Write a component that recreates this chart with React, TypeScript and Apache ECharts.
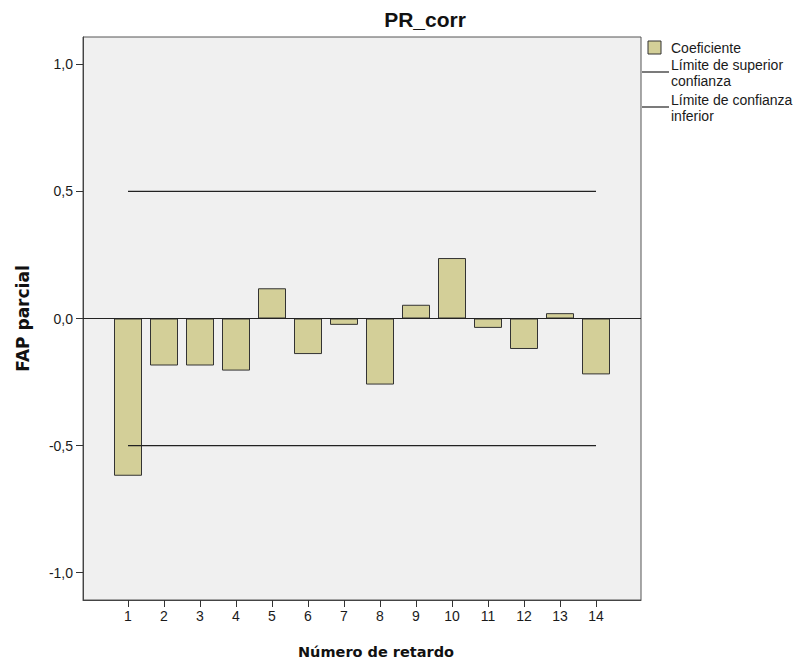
import React, { useEffect, useRef } from "react";
import * as echarts from "echarts";

const lags = [1, 2, 3, 4, 5, 6, 7, 8, 9, 10, 11, 12, 13, 14];
const coeficiente = [-0.619, -0.185, -0.185, -0.205, 0.119, -0.14, -0.025, -0.26, 0.054, 0.238, -0.037, -0.12, 0.021, -0.22];
const limiteSuperior = [0.5, 0.5, 0.5, 0.5, 0.5, 0.5, 0.5, 0.5, 0.5, 0.5, 0.5, 0.5, 0.5, 0.5];
const limiteInferior = [-0.5, -0.5, -0.5, -0.5, -0.5, -0.5, -0.5, -0.5, -0.5, -0.5, -0.5, -0.5, -0.5, -0.5];
const yTicks = [-1, -0.5, 0, 0.5, 1];

const FONT = "'Liberation Sans', Arial, sans-serif";
const BOLD_FONT = "'DejaVu Sans', Verdana, sans-serif";
const BAR_COLOR = "#d3cf98";

export default function App() {
  const ref = useRef<HTMLDivElement>(null);
  useEffect(() => {
    if (!ref.current) return;
    const chart = echarts.init(ref.current, null, { renderer: "svg" });
    const legendText = (x: number, y: number, t: string) => ({
      type: "text",
      x,
      y,
      style: { text: t, font: `14px ${FONT}`, lineHeight: 16, fill: "#1a1a1a", textVerticalAlign: "top" },
    });
    chart.setOption({
      animation: false,
      backgroundColor: "#ffffff",
      textStyle: { fontFamily: FONT },
      grid: {
        left: 83,
        top: 37,
        width: 558,
        height: 563,
        show: true,
        backgroundColor: "#f0f0f0",
        borderColor: "#555",
        borderWidth: 1,
      },
      xAxis: {
        type: "value",
        min: -0.25,
        max: 15.25,
        axisLine: { show: true, onZero: false, lineStyle: { color: "#444" } },
        axisTick: { show: true, length: 7, lineStyle: { color: "#333" }, customValues: lags },
        axisLabel: { color: "#1a1a1a", fontSize: 14, margin: 9, customValues: lags, formatter: (v: number) => String(v) },
        splitLine: { show: false },
      },
      yAxis: {
        type: "value",
        min: -1.108,
        max: 1.108,
        name: "FAP parcial",
        nameLocation: "middle",
        nameGap: 52,
        nameTextStyle: { fontSize: 17, fontWeight: "bold", color: "#111", fontFamily: BOLD_FONT },
        axisLine: { show: true, onZero: false, lineStyle: { color: "#444" } },
        axisTick: { show: true, length: 7, lineStyle: { color: "#333" }, customValues: yTicks },
        axisLabel: {
          color: "#1a1a1a",
          fontSize: 14,
          margin: 10,
          customValues: yTicks,
          formatter: (v: number) => v.toFixed(1).replace(".", ","),
        },
        splitLine: { show: false },
      },
      series: [
        {
          name: "Coeficiente",
          type: "bar",
          barWidth: 28,
          data: lags.map((l, i) => [l, coeficiente[i]]),
          itemStyle: { color: BAR_COLOR, borderColor: "#333", borderWidth: 1 },
          markLine: {
            silent: true,
            symbol: ["none", "none"],
            label: { show: false },
            lineStyle: { color: "#222", type: "solid", width: 1.2 },
            data: [{ yAxis: 0 }],
          },
          z: 2,
        },
        {
          name: "Límite de superior confianza",
          type: "line",
          symbol: "none",
          data: lags.map((l, i) => [l, limiteSuperior[i]]),
          lineStyle: { color: "#222", width: 1.3 },
          z: 3,
        },
        {
          name: "Límite de confianza inferior",
          type: "line",
          symbol: "none",
          data: lags.map((l, i) => [l, limiteInferior[i]]),
          lineStyle: { color: "#222", width: 1.3 },
          z: 3,
        },
      ],
      graphic: [
        {
          type: "text",
          x: 425,
          y: 19,
          style: {
            text: "PR_corr",
            font: `bold 21px ${FONT}`,
            fill: "#111",
            textAlign: "center",
            textVerticalAlign: "middle",
          },
        },
        {
          type: "text",
          x: 376,
          y: 652,
          style: {
            text: "Número de retardo",
            font: `bold 14.5px ${BOLD_FONT}`,
            fill: "#111",
            textAlign: "center",
            textVerticalAlign: "middle",
          },
        },
        {
          type: "rect",
          shape: { x: 648, y: 41, width: 13, height: 13 },
          style: { fill: BAR_COLOR, stroke: "#333", lineWidth: 1 },
        },
        legendText(671, 40, "Coeficiente"),
        { type: "line", shape: { x1: 642, y1: 72, x2: 669, y2: 72 }, style: { stroke: "#222", lineWidth: 1.2 } },
        legendText(671, 57, "Límite de superior\nconfianza"),
        { type: "line", shape: { x1: 642, y1: 107, x2: 669, y2: 107 }, style: { stroke: "#222", lineWidth: 1.2 } },
        legendText(671, 92, "Límite de confianza\ninferior"),
      ],
    });
    return () => chart.dispose();
  }, []);
  return <div ref={ref} style={{ position: "fixed", left: 0, top: 0, width: 806, height: 664 }} />;
}
